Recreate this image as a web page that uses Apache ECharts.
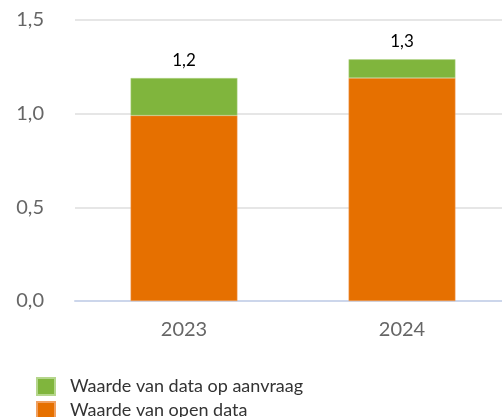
<!DOCTYPE html>
<html><head><meta charset="utf-8">
<script src="https://cdn.jsdelivr.net/npm/echarts@6/dist/echarts.min.js"></script>
<style>html,body{margin:0;padding:0;background:#fff}#c{width:502px;height:417px}</style>
</head><body><div id="c"></div>
<script>
const categories = ['2023', '2024'];
const openData = [0.99, 1.19];
const onRequest = [0.20, 0.10];
const totals = [1.2, 1.3];
const yTicks = [0, 0.5, 1.0, 1.5];
const seriesNames = ['Waarde van data op aanvraag', 'Waarde van open data'];

const fmt = v => v.toFixed(1).replace('.', ',');
const chart = echarts.init(document.getElementById('c'));
const FONT = 'Lato, "Open Sans", sans-serif';
const legendBase = {
  orient: 'horizontal', left: 36, itemWidth: 18, itemHeight: 17, padding: 0,
  icon: 'rect',
  textStyle: { fontFamily: FONT, fontSize: 18, color: '#333', padding: [0, 0, 0, 10] }
};
chart.setOption({
  animation: false,
  grid: { left: 75, width: 436, top: 20, bottom: 116, outerBoundsMode: 'none' },
  legend: [
    Object.assign({}, legendBase, { top: 377, data: [seriesNames[0]] }),
    Object.assign({}, legendBase, { top: 401, data: [seriesNames[1]] })
  ],
  xAxis: {
    type: 'category', data: categories,
    axisLine: { lineStyle: { color: '#ccd6eb', width: 2 } },
    axisTick: { show: false },
    axisLabel: { fontFamily: FONT, fontSize: 20, color: '#666', margin: 19 }
  },
  yAxis: {
    type: 'value', min: yTicks[0], max: yTicks[yTicks.length - 1], interval: 0.5,
    axisLabel: { fontFamily: FONT, fontSize: 20, color: '#666', margin: 31, formatter: v => fmt(v) },
    splitLine: { lineStyle: { color: '#e6e6e6', width: 2 } },
    axisLine: { show: false }, axisTick: { show: false }
  },
  series: [
    {
      name: seriesNames[1], type: 'bar', stack: 't', data: openData, barWidth: '49%',
      itemStyle: { color: '#e67000', borderColor: '#f0a060', borderWidth: 0.5 }
    },
    {
      name: seriesNames[0], type: 'bar', stack: 't', data: onRequest, barWidth: '49%',
      itemStyle: { color: '#80b53d', borderColor: '#b5d68c', borderWidth: 0.5 },
      label: {
        show: true, position: 'top', distance: 9, fontFamily: FONT, fontSize: 17, color: '#000',
        formatter: p => fmt(totals[p.dataIndex])
      }
    }
  ]
});
</script></body></html>
